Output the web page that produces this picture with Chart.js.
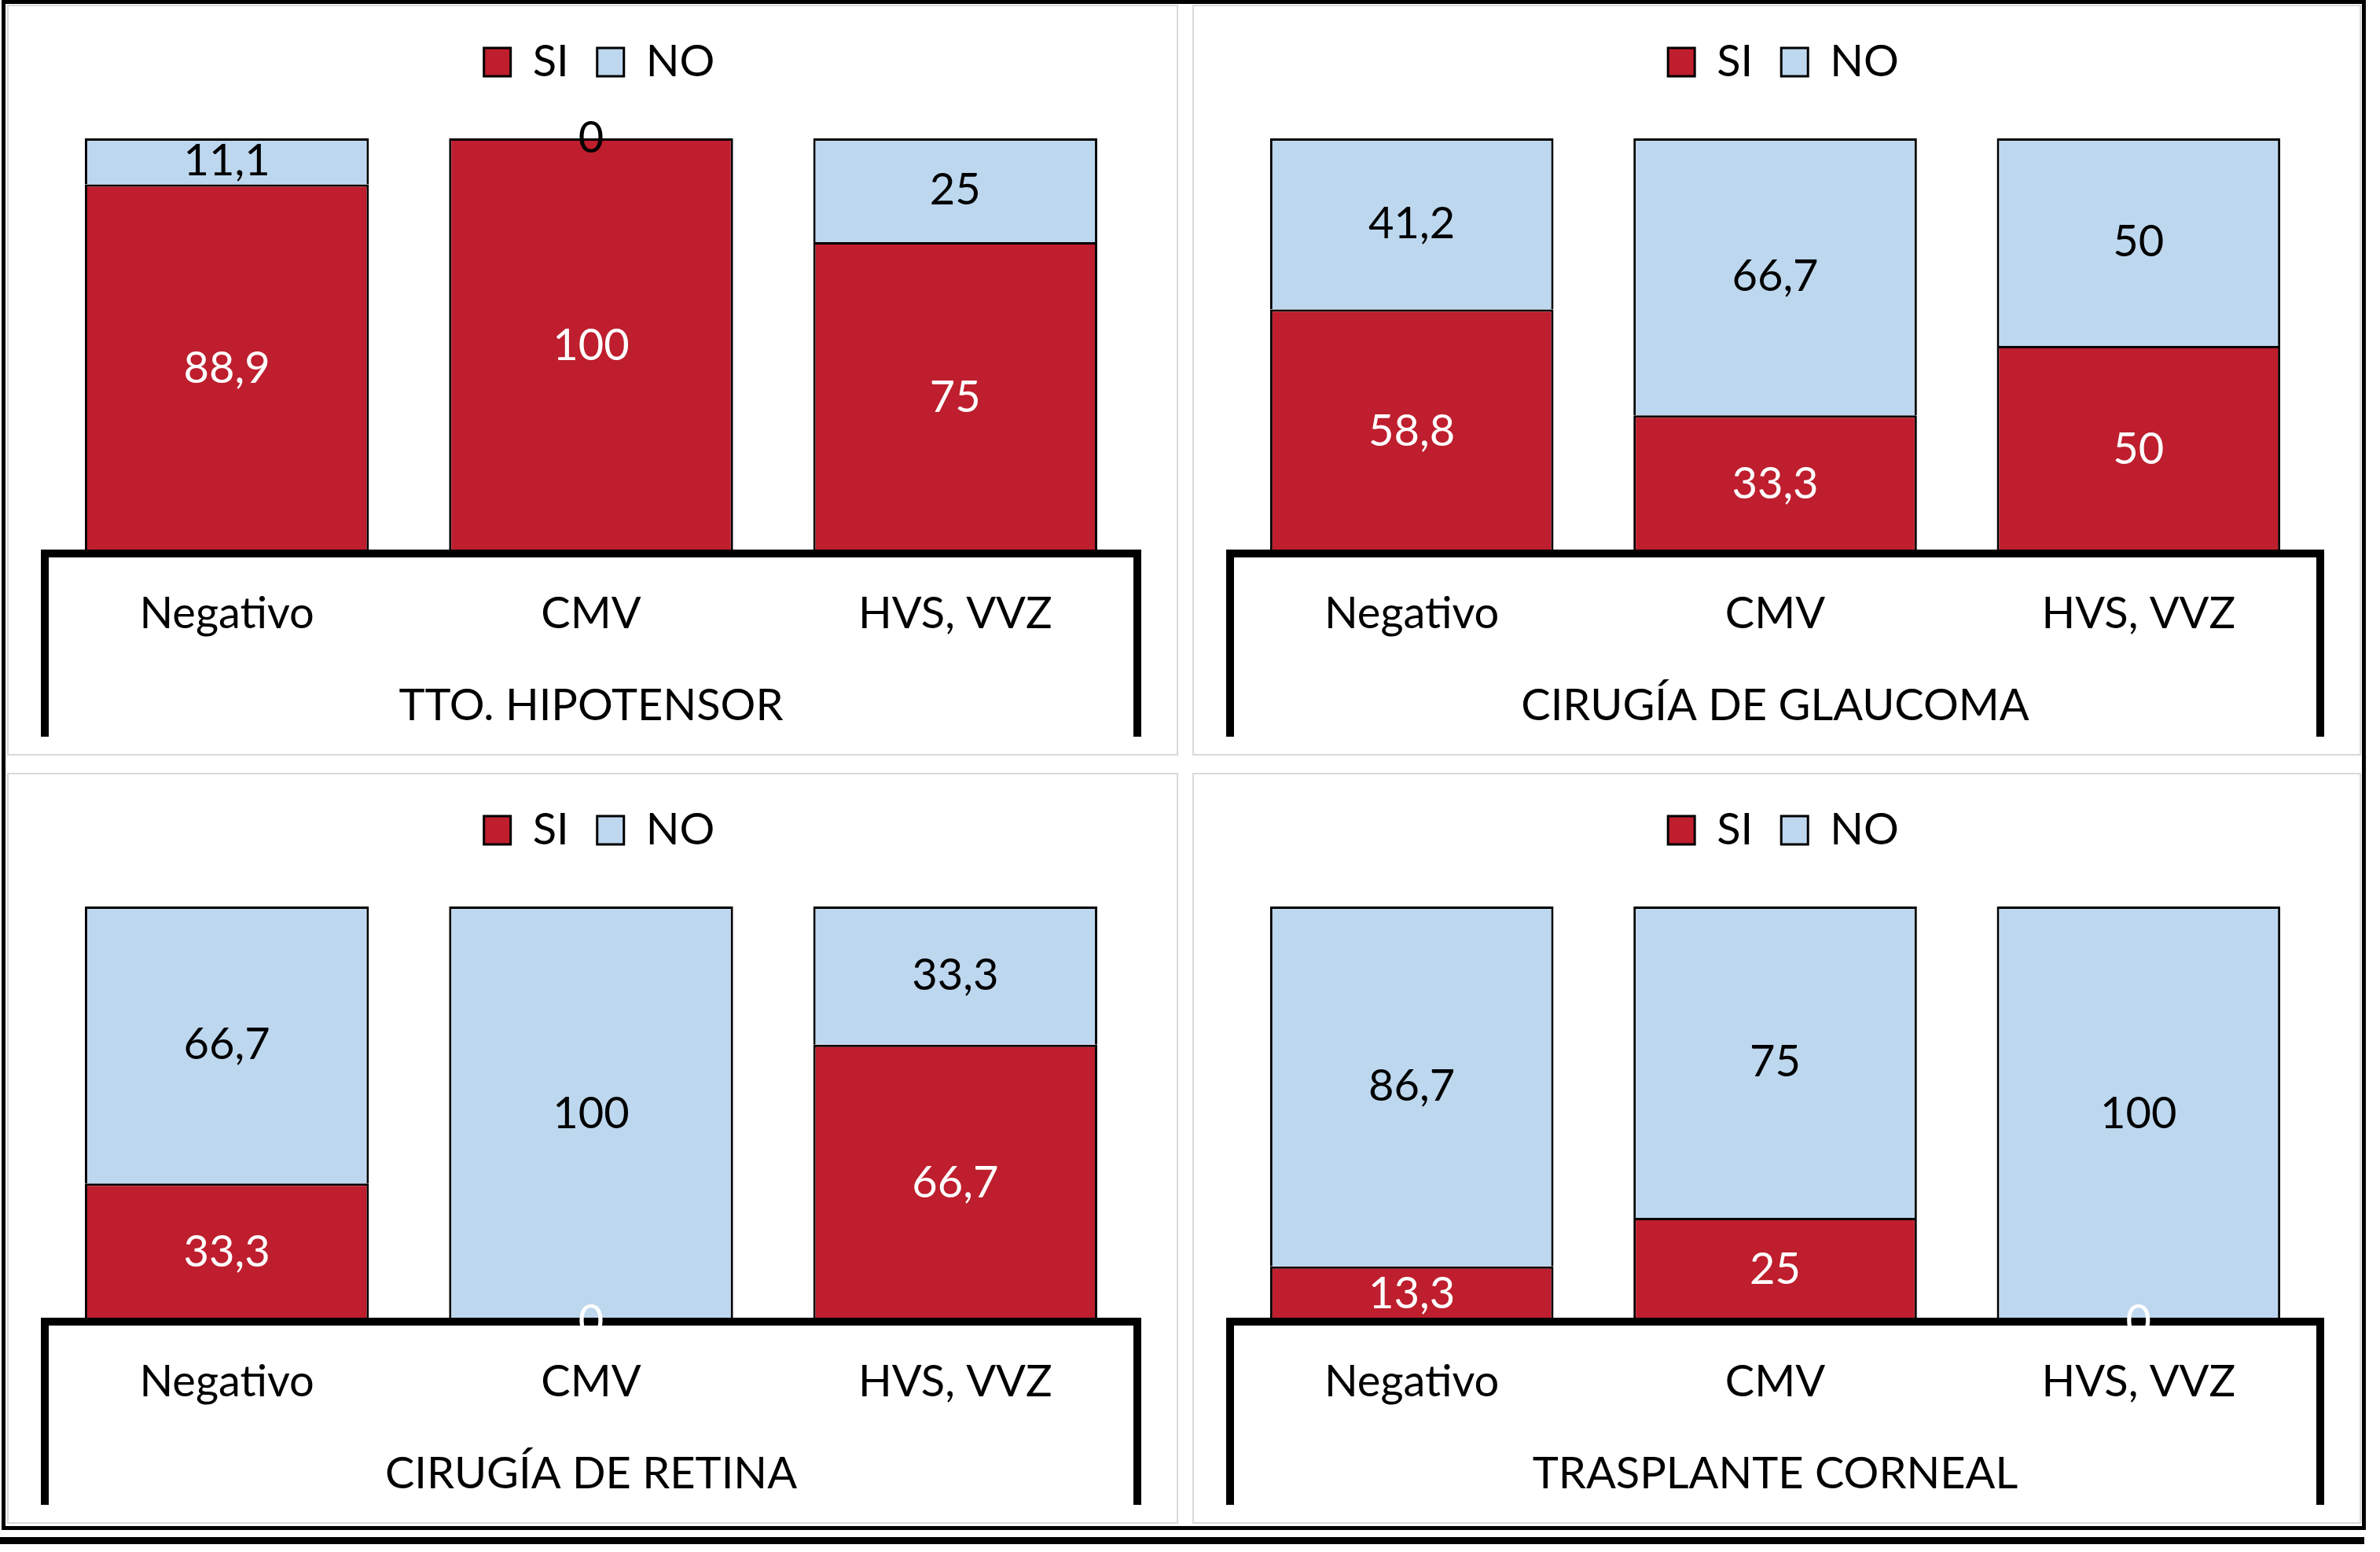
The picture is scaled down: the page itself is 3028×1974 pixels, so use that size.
<!DOCTYPE html>
<html>
<head>
<meta charset="utf-8">
<script src="https://cdn.jsdelivr.net/npm/chart.js@4.4.1/dist/chart.umd.min.js"></script>
<style>
  html, body { margin: 0; padding: 0; background: #fff; }
  body { width: 3028px; height: 1974px; position: relative; overflow: hidden; }
  #frame { position: absolute; left: 2px; top: 0; width: 3008px; height: 1946px; border: 5px solid #000; box-sizing: border-box; }
  #rule { position: absolute; left: 0; top: 1955px; width: 3008px; height: 9px; background: #000; }
  .panel { position: absolute; border: 2px solid #d9d9d9; box-sizing: border-box; background: #fff; overflow: hidden; }
  .panel canvas { position: absolute; left: 0; top: 0; }
</style>
</head>
<body>
<div id="frame"></div>
<div id="rule"></div>
<div class="panel" style="left:9px;top:6px;width:1490px;height:955px"><canvas id="c0"></canvas></div>
<div class="panel" style="left:1517px;top:6px;width:1487px;height:955px"><canvas id="c1"></canvas></div>
<div class="panel" style="left:9px;top:983px;width:1490px;height:955px"><canvas id="c2"></canvas></div>
<div class="panel" style="left:1517px;top:983px;width:1487px;height:955px"><canvas id="c3"></canvas></div>
<script>
const categories = ['Negativo', 'CMV', 'HVS, VVZ'];
const seriesNames = ['SI', 'NO'];
const groupNames = ['TTO. HIPOTENSOR', 'CIRUGÍA DE GLAUCOMA', 'CIRUGÍA DE RETINA', 'TRASPLANTE CORNEAL'];

const siHipotensor = [88.9, 100, 75];
const noHipotensor = [11.1, 0, 25];
const siGlaucoma = [58.8, 33.3, 50];
const noGlaucoma = [41.2, 66.7, 50];
const siRetina = [33.3, 0, 66.7];
const noRetina = [66.7, 100, 33.3];
const siCorneal = [13.3, 25, 0];
const noCorneal = [86.7, 75, 100];

const RED = '#BE1E2D';
const BLUE = '#BDD7EE';
const FONT = 'Lato';
const FS = 56;

// value in the middle of each stacked segment, with decimal comma
const segmentLabels = {
  id: 'segmentLabels',
  afterDraw(chart) {
    const ctx = chart.ctx;
    ctx.save();
    ctx.font = FS + 'px ' + FONT;
    ctx.textAlign = 'center';
    ctx.textBaseline = 'middle';
    chart.data.datasets.forEach((ds, i) => {
      ctx.fillStyle = i === 0 ? '#fff' : '#000';
      chart.getDatasetMeta(i).data.forEach((bar, j) => {
        const txt = String(ds.data[j]).replace('.', ',');
        ctx.fillText(txt, bar.x, (bar.y + bar.base) / 2);
      });
    });
    ctx.restore();
  }
};

const edgeOnly = c => (c.type === 'scale' || c.index === 0) ? '#000' : 'rgba(0,0,0,0)';

function makeChart(id, groupName, si, no) {
  const canvas = document.getElementById(id);
  const box = canvas.parentElement;
  canvas.width = box.clientWidth;
  canvas.height = box.clientHeight;
  canvas.style.width = box.clientWidth + 'px';
  canvas.style.height = box.clientHeight + 'px';

  return new Chart(canvas, {
    type: 'bar',
    data: {
      labels: categories,
      datasets: [
        { label: seriesNames[0], data: si, backgroundColor: RED, borderColor: '#000', borderWidth: 3, xAxisID: 'x', yAxisID: 'y' },
        { label: seriesNames[1], data: no, backgroundColor: BLUE, borderColor: '#000', borderWidth: 3, xAxisID: 'x', yAxisID: 'y' },
      ],
    },
    options: {
      responsive: false,
      animation: false,
      categoryPercentage: 1,
      barPercentage: 0.78,
      layout: { padding: { left: 46, right: 29, top: 7, bottom: 22 } },
      plugins: {
        legend: {
          position: 'top',
          labels: {
            font: { family: FONT, size: FS },
            color: '#000',
            boxWidth: 34,
            boxHeight: 36,
            padding: 36,
          },
        },
        tooltip: { enabled: false },
      },
      scales: {
        x: {
          stacked: true,
          offset: true,
          border: { display: true, color: '#000', width: 10, z: 1 },
          grid: { offset: true, drawOnChartArea: false, drawTicks: true, tickLength: 116, lineWidth: 10, color: edgeOnly },
          ticks: { font: { family: FONT, size: FS }, color: '#000', padding: -73, maxRotation: 0, autoSkip: false },
          afterFit: s => { s.height = 116; },
        },
        x2: {
          type: 'category',
          labels: [groupName],
          position: 'bottom',
          offset: true,
          border: { display: false },
          grid: { offset: true, drawOnChartArea: false, drawTicks: true, tickLength: 117, lineWidth: 10, color: '#000' },
          ticks: { font: { family: FONT, size: FS }, color: '#000', padding: -73, maxRotation: 0 },
          afterFit: s => { s.height = 117; },
        },
        xTop: {
          type: 'category',
          position: 'top',
          grid: { display: false },
          border: { display: false },
          ticks: { display: false },
          afterFit: s => { s.height = 59; },
        },
        y: { stacked: true, min: 0, max: 100, display: false },
        yPad: {
          type: 'linear',
          position: 'right',
          grid: { display: false },
          border: { display: false },
          ticks: { display: false },
          afterFit: s => { s.width = 21; },
        },
      },
    },
    plugins: [segmentLabels],
  });
}

makeChart('c0', groupNames[0], siHipotensor, noHipotensor);
makeChart('c1', groupNames[1], siGlaucoma, noGlaucoma);
makeChart('c2', groupNames[2], siRetina, noRetina);
makeChart('c3', groupNames[3], siCorneal, noCorneal);
</script>
</body>
</html>
